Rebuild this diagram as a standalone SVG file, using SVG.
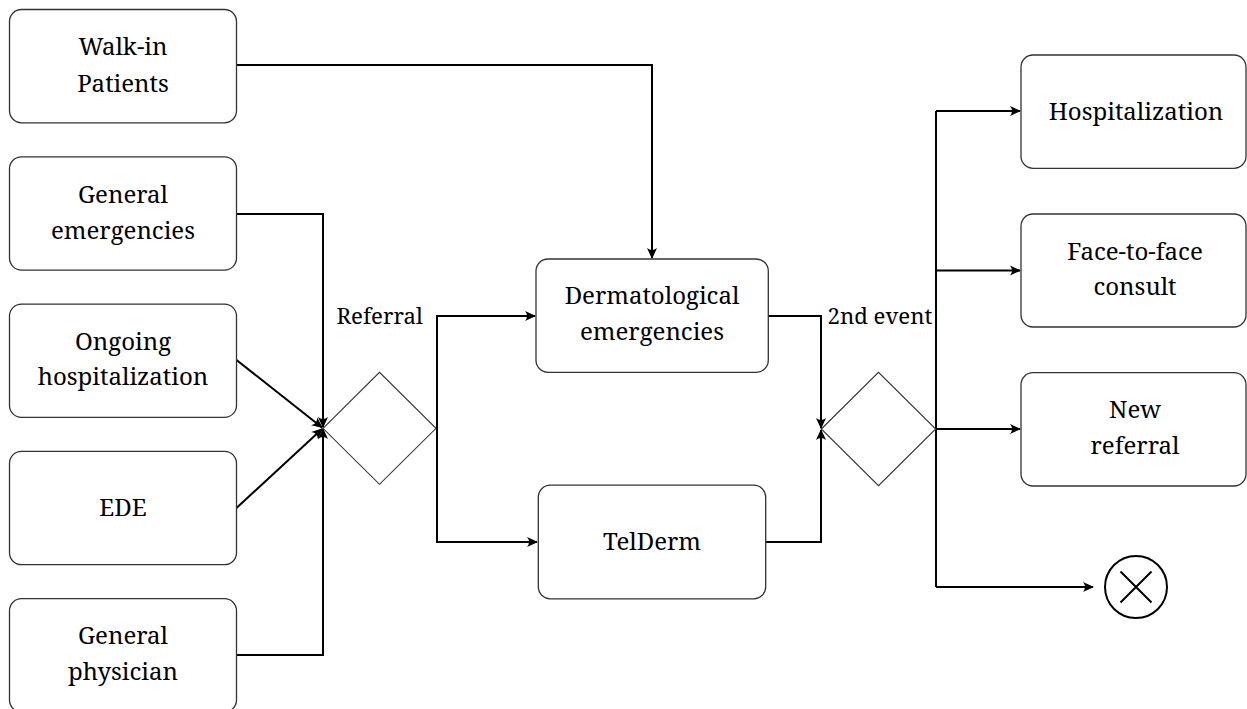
<svg xmlns="http://www.w3.org/2000/svg" width="1247" height="709" viewBox="0 0 1247 709">
<defs>
<style>
.box{fill:#fff;stroke:#333;stroke-width:1.3}
.dia{fill:#fff;stroke:#333;stroke-width:1.1}
.t{font-family:'Noto Serif','DejaVu Serif',serif;font-size:24px;fill:#000;text-anchor:middle}
.lbl{font-family:'Noto Serif','DejaVu Serif',serif;font-size:22.2px;fill:#000}
.c{fill:none;stroke:#000;stroke-width:2}
.ca{fill:none;stroke:#000;stroke-width:2;marker-end:url(#arr)}
</style>
<marker id="arr" markerUnits="userSpaceOnUse" markerWidth="14" markerHeight="12" viewBox="-12 -6 14 12" refX="0" refY="0" orient="auto">
<path d="M1,0 L-10,-5 Q-6,0 -10,5 Z" fill="#000"/>
</marker>
</defs>
<rect width="1247" height="709" fill="#fff"/>

<g id="connectors">
<path class="ca" d="M236.5,65 H652 V258"/>
<path class="ca" d="M236.5,214 H323 V427"/>
<path class="ca" d="M236.5,655 H323 V429"/>
<path class="ca" d="M236.5,360 L322,427.5"/>
<path class="ca" d="M236.5,508 L322,429"/>
<path class="ca" d="M436,428.3 H437 V316 H535"/>
<path class="ca" d="M437,428.3 V542 H537"/>
<path class="ca" d="M768,316 H821 V428"/>
<path class="ca" d="M766,542 H821 V430"/>
<path class="c" d="M936,111 V587"/>
<path class="ca" d="M936,111 H1020"/>
<path class="ca" d="M936,270.5 H1020"/>
<path class="ca" d="M936,429 H1020"/>
<path class="ca" d="M936,587 H1093"/>
</g>

<g id="walkin">
<rect class="box" x="9.5" y="9.5" width="227" height="113.3" rx="12"/>
<text class="t" x="123" y="55">Walk-in</text>
<text class="t" x="123" y="91.5">Patients</text>
</g>
<g id="genemerg">
<rect class="box" x="9.5" y="156.8" width="227" height="113.3" rx="12"/>
<text class="t" x="123" y="203">General</text>
<text class="t" x="123" y="239">emergencies</text>
</g>
<g id="ongoing">
<rect class="box" x="9.5" y="304.1" width="227" height="113.3" rx="12"/>
<text class="t" x="123" y="349.5">Ongoing</text>
<text class="t" x="123" y="385">hospitalization</text>
</g>
<g id="ede">
<rect class="box" x="9.5" y="451.4" width="227" height="113.3" rx="12"/>
<text class="t" x="123" y="516">EDE</text>
</g>
<g id="genphys">
<rect class="box" x="9.5" y="598.7" width="227" height="113.3" rx="12"/>
<text class="t" x="123" y="644">General</text>
<text class="t" x="123" y="680">physician</text>
</g>

<g id="referral">
<polygon class="dia" points="323,428.3 379.5,372.3 436,428.3 379.5,484.3"/>
<text class="lbl" x="336.5" y="324">Referral</text>
</g>

<g id="derm">
<rect class="box" x="536" y="259" width="232.3" height="113.3" rx="12"/>
<text class="t" x="652" y="304">Dermatological</text>
<text class="t" x="652" y="340">emergencies</text>
</g>
<g id="telderm">
<rect class="box" x="538.3" y="485.2" width="227.4" height="113.6" rx="12"/>
<text class="t" x="652" y="550">TelDerm</text>
</g>

<g id="second">
<polygon class="dia" points="821.3,429 878.5,372.3 935.7,429 878.5,485.7"/>
<text class="lbl" x="827.5" y="324">2nd event</text>
</g>

<g id="hosp">
<rect class="box" x="1021" y="55" width="225" height="113.3" rx="12"/>
<text class="t" x="1136" y="119.5">Hospitalization</text>
</g>
<g id="face">
<rect class="box" x="1021" y="214" width="225" height="113" rx="12"/>
<text class="t" x="1135" y="259.5">Face-to-face</text>
<text class="t" x="1135" y="294.5">consult</text>
</g>
<g id="newref">
<rect class="box" x="1021" y="372.7" width="225" height="113.3" rx="12"/>
<text class="t" x="1135" y="417.5">New</text>
<text class="t" x="1135" y="453.5">referral</text>
</g>
<g id="end">
<circle cx="1136" cy="587" r="31" fill="#fff" stroke="#000" stroke-width="2"/>
<path d="M1120.5,571.5 L1151.5,602.5 M1151.5,571.5 L1120.5,602.5" stroke="#000" stroke-width="2"/>
</g>
</svg>
